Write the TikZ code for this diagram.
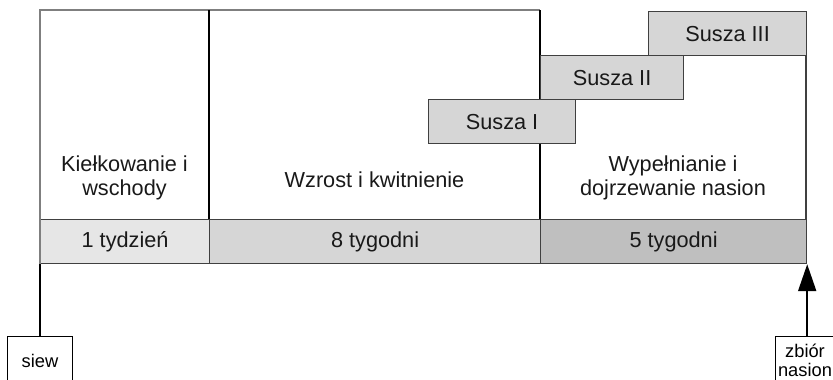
\documentclass[tikz,border=0pt]{standalone}
\usepackage{fontspec}
\setmainfont{Liberation Sans}
\usetikzlibrary{arrows.meta}
\definecolor{framegray}{HTML}{7F7F7F}
\definecolor{boxfill}{HTML}{D6D6D6}
\definecolor{barA}{HTML}{E6E6E6}
\definecolor{barB}{HTML}{D6D6D6}
\definecolor{barC}{HTML}{BFBFBF}
\definecolor{edge}{HTML}{404040}
\tikzset{
  bigtext/.style={font=\fontsize{21.7}{24}\selectfont, align=center, inner sep=0pt, text=black!90},
  cell/.style={draw=edge, line width=1.2pt, inner sep=0pt, anchor=north west, font=\fontsize{21.7}{24}\selectfont, text=black!90},
  tag/.style={draw=black, line width=1pt, fill=white, inner sep=0pt, anchor=north west, font=\fontsize{18.3}{19.5}\selectfont, align=center},
  link/.style={draw=black, line width=2pt}
}
\begin{document}
\begin{tikzpicture}[x=1pt,y=-1pt]
\useasboundingbox (0,0) rectangle (833,380);
% frame
\draw[framegray, line width=2pt] (540,10) -- (40,10) -- (40,263);
\draw[edge, line width=1.5pt] (806,55) -- (806,263);
\draw[black, line width=1.5pt] (209,10) -- (209,219);
\draw[black, line width=1.5pt] (540,10) -- (540,219);
% phase labels
\node[bigtext] (p1) at (124.5,178) {Kiełkowanie i\\wschody};
\node[bigtext] (p2) at (374.5,180) {Wzrost i kwitnienie};
\node[bigtext] (p3) at (673,178) {Wypełnianie i\\dojrzewanie nasion};
% drought boxes
\node[cell, fill=boxfill, minimum width=158pt, minimum height=44pt] (s3) at (648,11) {Susza III};
\node[cell, fill=boxfill, minimum width=143pt, minimum height=44pt] (s2) at (540,55) {Susza II};
\node[cell, fill=boxfill, minimum width=147pt, minimum height=44pt] (s1) at (428,99) {Susza I};
% duration bars
\node[cell, fill=barA, minimum width=169pt, minimum height=44pt] (b1) at (40,219) {1 tydzień};
\node[cell, fill=barB, minimum width=331pt, minimum height=44pt] (b2) at (209,219) {8 tygodni};
\node[cell, fill=barC, minimum width=266pt, minimum height=44pt] (b3) at (540,219) {5 tygodni};
\draw[framegray, line width=2pt] (b1.north west) -- (b1.south west);
% tags
\node[tag, minimum width=65pt, minimum height=48pt] (siew) at (7,336) {};
\node[font=\fontsize{18.3}{19.5}\selectfont, inner sep=0pt, anchor=base] (siewt) at (40,367) {siew};
\node[tag, minimum width=62pt, minimum height=48pt] (zb) at (775,336) {};
\node[font=\fontsize{18.3}{19.5}\selectfont, inner sep=0pt, anchor=base] (zbt1) at (805,357) {zbiór};
\node[font=\fontsize{18.3}{19.5}\selectfont, inner sep=0pt, anchor=base] (zbt2) at (805,376) {nasion};
% connectors
\draw[link] (b1.south west) -- (b1.south west |- siew.north);
\draw[link, -{Triangle[length=27pt,width=18pt]}] (b3.south east |- zb.north) -- (b3.south east);
\end{tikzpicture}
\end{document}
